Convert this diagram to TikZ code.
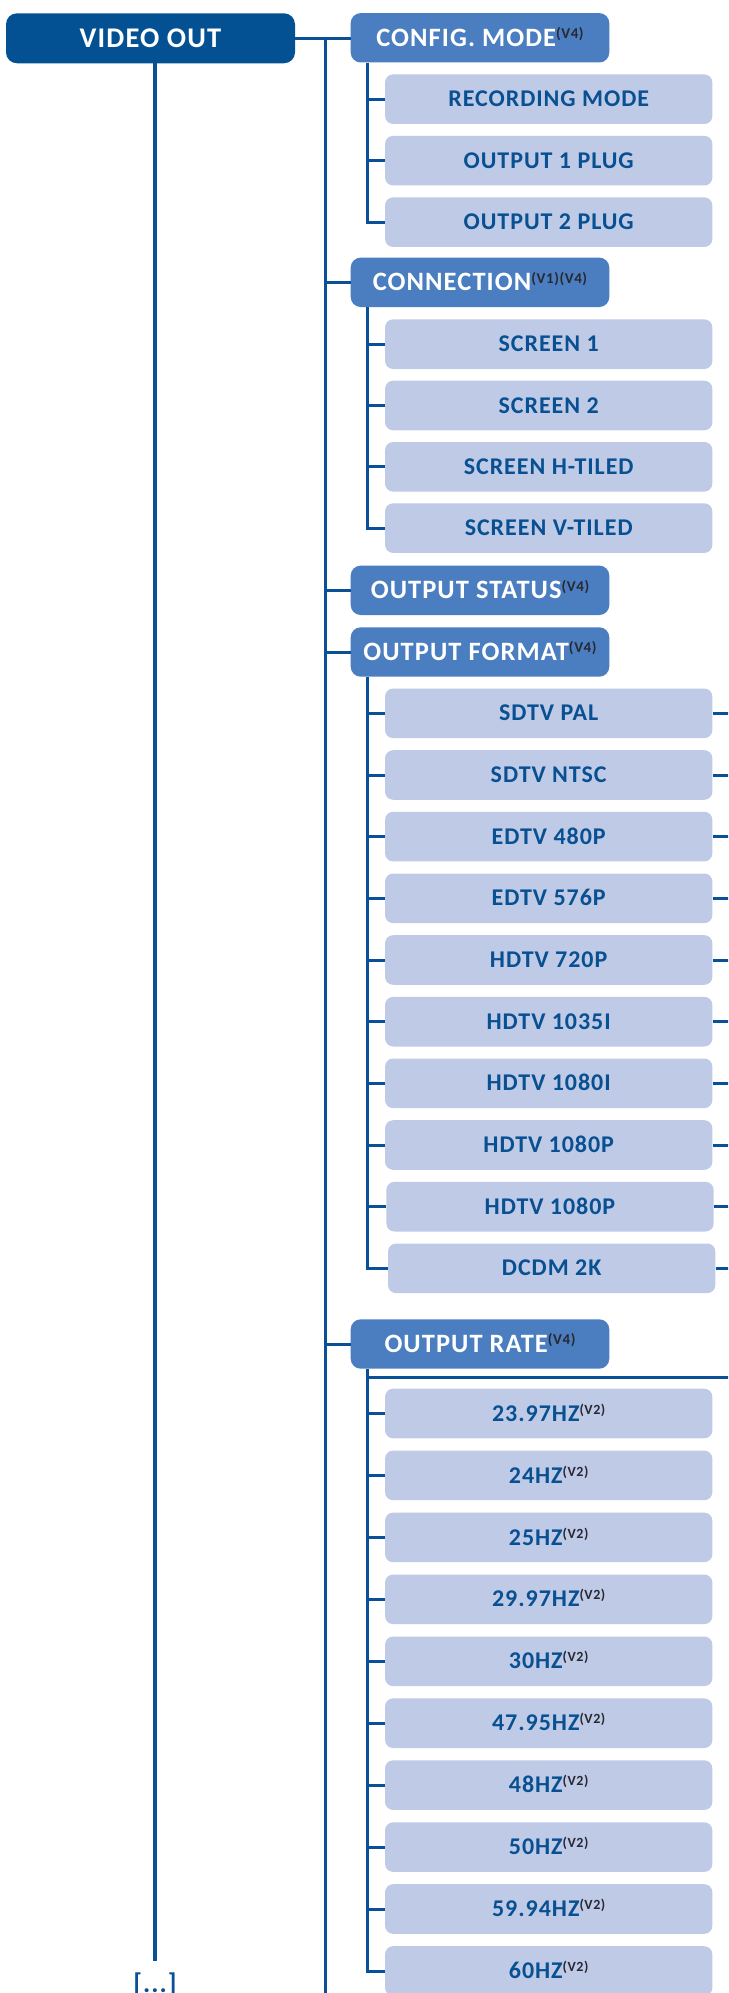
\documentclass[tikz,border=0pt]{standalone}
\usepackage{fontspec}
\setmainfont{Carlito}
\newfontfamily\bx[LetterSpace=4]{Carlito}
\definecolor{vodark}{RGB}{3,81,147}
\definecolor{pfill}{RGB}{74,126,192}
\definecolor{cfill}{RGB}{191,202,231}
\definecolor{ctext}{RGB}{8,80,145}
\definecolor{linec}{RGB}{10,80,150}
\definecolor{supc}{RGB}{40,40,50}
\newcommand\vsup[1]{{\fontsize{15}{15}\selectfont\color{supc}\raisebox{7.5pt}{#1}}}
\newcommand\csup[1]{{\fontsize{14}{14}\selectfont\color{supc}\raisebox{7pt}{#1}}}
\begin{document}
\begin{tikzpicture}[x=1pt,y=-1pt,
  vobox/.style={rounded corners=11pt, fill=vodark, minimum width=289pt, minimum height=50pt, inner sep=0pt, text=white, font=\bx\bfseries\fontsize{28.5}{28.5}\selectfont, text height=18pt, text depth=0pt},
  pbox/.style={rounded corners=10pt, fill=pfill, minimum width=258.6pt, minimum height=49.4pt, inner sep=0pt, text=white, font=\bx\bfseries\fontsize{26.5}{26.5}\selectfont, text height=16.7pt, text depth=0pt},
  cbox/.style={rounded corners=8pt, fill=cfill, minimum width=327.3pt, minimum height=49.6pt, inner sep=0pt, text=ctext, font=\bx\bfseries\fontsize{24}{24}\selectfont, text height=15.2pt, text depth=0pt},
  conn/.style={draw=linec, line width=3pt}]
\useasboundingbox (0,0) rectangle (728,1993);
\clip (0,0) rectangle (728,1993);
% coordinates
\coordinate (tx) at (325,0);
\coordinate (tbot) at (325,2000);
\coordinate (sx) at (367,0);
\coordinate (rx) at (732,0);
\coordinate (voend) at (155,1961);
\coordinate (rl) at (367,1377.7);
% main
\node[vobox] (vo) at (150.5,38.3) {VIDEO OUT};
\node[pbox] (cfg) at (480,37.8) {CONFIG. MODE\vsup{(V4)}};
\node[pbox] (con) at (480,282.3) {CONNECTION\vsup{(V1)(V4)}};
\node[pbox] (ost) at (480,590.3) {OUTPUT STATUS\vsup{(V4)}};
\node[pbox] (ofm) at (480,652) {OUTPUT FORMAT\vsup{(V4)}};
\node[pbox] (ort) at (480,1344) {OUTPUT RATE\vsup{(V4)}};
% config children
\node[cbox] (rec) at (548.7,99.2) {RECORDING MODE};
\node[cbox] (op1) at (548.7,160.7) {OUTPUT 1 PLUG};
\node[cbox] (op2) at (548.7,222.2) {OUTPUT 2 PLUG};
% connection children
\node[cbox] (sc1) at (548.7,344.2) {SCREEN 1};
\node[cbox] (sc2) at (548.7,405.5) {SCREEN 2};
\node[cbox] (sch) at (548.7,466.8) {SCREEN H-TILED};
\node[cbox] (scv) at (548.7,528.1) {SCREEN V-TILED};
% format children
\node[cbox] (f1) at (548.7,713.3) {SDTV PAL};
\node[cbox] (f2) at (548.7,775.0) {SDTV NTSC};
\node[cbox] (f3) at (548.7,836.6) {EDTV 480P};
\node[cbox] (f4) at (548.7,898.3) {EDTV 576P};
\node[cbox] (f5) at (548.7,960.0) {HDTV 720P};
\node[cbox] (f6) at (548.7,1021.7) {HDTV 1035I};
\node[cbox] (f7) at (548.7,1083.3) {HDTV 1080I};
\node[cbox] (f8) at (548.7,1145.0) {HDTV 1080P};
\node[cbox] (f9) at (550,1206.7) {HDTV 1080P};
\node[cbox] (f10) at (551.7,1268.3) {DCDM 2K};
% rate children
\node[cbox] (r1) at (548.7,1413.5) {23.97HZ\csup{(V2)}};
\node[cbox] (r2) at (548.7,1475.4) {24HZ\csup{(V2)}};
\node[cbox] (r3) at (548.7,1537.4) {25HZ\csup{(V2)}};
\node[cbox] (r4) at (548.7,1599.3) {29.97HZ\csup{(V2)}};
\node[cbox] (r5) at (548.7,1661.3) {30HZ\csup{(V2)}};
\node[cbox] (r6) at (548.7,1723.2) {47.95HZ\csup{(V2)}};
\node[cbox] (r7) at (548.7,1785.1) {48HZ\csup{(V2)}};
\node[cbox] (r8) at (548.7,1847.1) {50HZ\csup{(V2)}};
\node[cbox] (r9) at (548.7,1909.0) {59.94HZ\csup{(V2)}};
\node[cbox] (r10) at (548.7,1971.0) {60HZ\csup{(V2)}};
% [...]
\node[anchor=base, inner sep=0pt, text=linec, font=\bx\bfseries\fontsize{27}{27}\selectfont] (more) at (155,1992) {[...]};
% connectors
\draw[conn, line width=4.5pt] (vo.south -| voend) -- (voend);
\draw[conn] (vo.east) -- (vo.east -| cfg.west);
\draw[conn] (vo.east -| tx) -- (tbot);
\foreach \p in {con,ost,ofm,ort} \draw[conn] (\p.west) -- (\p.west -| tx);
% sub-trunks
\draw[conn] (cfg.south -| sx) -- (op2.west -| sx) -- (op2.west);
\foreach \c in {rec,op1} \draw[conn] (\c.west) -- (\c.west -| sx);
\draw[conn] (con.south -| sx) -- (scv.west -| sx) -- (scv.west);
\foreach \c in {sc1,sc2,sch} \draw[conn] (\c.west) -- (\c.west -| sx);
\draw[conn] (ofm.south -| sx) -- (f10.west -| sx) -- (f10.west);
\foreach \c in {f1,f2,f3,f4,f5,f6,f7,f8,f9} \draw[conn] (\c.west) -- (\c.west -| sx);
\foreach \c in {f1,f2,f3,f4,f5,f6,f7,f8,f9,f10} \draw[conn] (\c.east) -- (\c.east -| rx);
\draw[conn] (ort.south -| sx) -- (r10.west -| sx) -- (r10.west);
\foreach \c in {r1,r2,r3,r4,r5,r6,r7,r8,r9} \draw[conn] (\c.west) -- (\c.west -| sx);
\draw[conn] (rl) -- (rl -| rx);
\end{tikzpicture}
\end{document}
